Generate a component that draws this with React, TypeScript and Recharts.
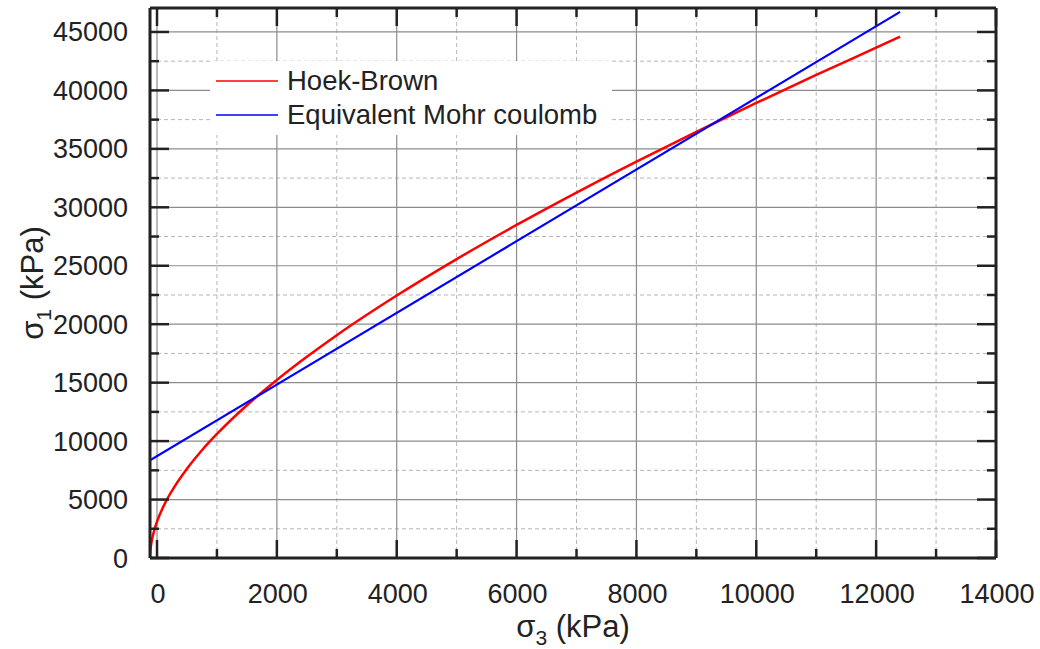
import { LineChart, Line, XAxis, YAxis, ReferenceLine, Legend } from 'recharts';

// Hoek-Brown envelope (sigma3, sigma1 in kPa)
const hbSigma3 = [-117, -112, -100, -80, -50, 0, 150, 300, 500, 750, 1000, 1500, 2000, 2500, 3000, 4000, 5000, 6000, 7000, 8000, 9000, 10000, 11000, 12000, 12400];
const hbSigma1 = [0, 530, 1090, 1670, 2300, 3110, 4850, 6170, 7640, 9220, 10610, 13070, 15230, 17210, 19060, 22450, 25570, 28490, 31260, 33910, 36460, 38930, 41320, 43660, 44600];

// equivalent Mohr-Coulomb line
const mcSigma3 = [-117, 12400];
const mcSigma1 = [8350, 46720];

const xTicks = [0, 1000, 2000, 3000, 4000, 5000, 6000, 7000, 8000, 9000, 10000, 11000, 12000, 13000, 14000];
const yTicks = [0, 2500, 5000, 7500, 10000, 12500, 15000, 17500, 20000, 22500, 25000, 27500, 30000, 32500, 35000, 37500, 40000, 42500, 45000];

const hbData = hbSigma3.map((s3, i) => ({ s3, s1: hbSigma1[i] }));
const mcData = mcSigma3.map((s3, i) => ({ s3, s1: mcSigma1[i] }));

const FONT = '"Liberation Sans", Arial, sans-serif';
const INK = '#222';

const isMajorX = (v: number) => v % 2000 === 0;
const isMajorY = (v: number) => v % 5000 === 0;

const BottomTick = ({ x, y, payload }: any) => {
  const major = isMajorX(payload.value);
  return (
    <g>
      <line x1={x} x2={x} y1={y} y2={y - (major ? 18 : 9)} stroke={INK} strokeWidth={2.5} />
      {major && (
        <text x={x + 1} y={y + 45} textAnchor="middle" fontSize={27} fontFamily={FONT} fill={INK}>
          {payload.value}
        </text>
      )}
    </g>
  );
};

const TopTick = ({ x, y, payload }: any) => {
  const major = isMajorX(payload.value);
  return <line x1={x} x2={x} y1={y} y2={y + (major ? 18 : 9)} stroke={INK} strokeWidth={2.5} />;
};

const LeftTick = ({ x, y, payload }: any) => {
  const major = isMajorY(payload.value);
  return (
    <g>
      <line x1={x} x2={x + (major ? 19 : 9)} y1={y} y2={y} stroke={INK} strokeWidth={2.5} />
      {major && (
        <text x={x - 22} y={y + 9.5} textAnchor="end" fontSize={27} fontFamily={FONT} fill={INK}>
          {payload.value}
        </text>
      )}
    </g>
  );
};

const RightTick = ({ x, y, payload }: any) => {
  const major = isMajorY(payload.value);
  return <line x1={x} x2={x - (major ? 19 : 9)} y1={y} y2={y} stroke={INK} strokeWidth={2.5} />;
};

const XTitle = ({ viewBox }: any) => {
  const cx = viewBox.x + viewBox.width / 2;
  return (
    <text x={cx} y={viewBox.y + 79} textAnchor="middle" fontSize={31} fontFamily={FONT} fill={INK}>
      <tspan>σ</tspan>
      <tspan fontSize={21} dy={8}>3</tspan>
      <tspan dy={-8}> (kPa)</tspan>
    </text>
  );
};

const YTitle = ({ viewBox }: any) => {
  const cx = viewBox.x - 47;
  const cy = viewBox.y + viewBox.height / 2;
  return (
    <text x={cx} y={cy} transform={`rotate(-90, ${cx}, ${cy})`} textAnchor="middle" fontSize={31} fontFamily={FONT} fill={INK}>
      <tspan>σ</tspan>
      <tspan fontSize={21} dy={8}>1</tspan>
      <tspan dy={-8}> (kPa)</tspan>
    </text>
  );
};

const legendItems = [
  { label: 'Hoek-Brown', color: '#ff0000' },
  { label: 'Equivalent Mohr coulomb', color: '#0000ff' },
];

const LegendBox = () => (
  <div style={{ width: 402, height: 74, background: '#fff', position: 'relative', fontFamily: FONT }}>
    {legendItems.map((it, i) => (
      <div key={it.label} style={{ position: 'absolute', left: 6, top: 20 + i * 34 - 17, height: 34, display: 'flex', alignItems: 'center' }}>
        <svg width={62} height={4} style={{ display: 'block' }}>
          <line x1={0} x2={62} y1={2} y2={2} stroke={it.color} strokeWidth={1.5} />
        </svg>
        <span style={{ marginLeft: 9, fontSize: 27.5, color: INK, lineHeight: '34px', whiteSpace: 'nowrap' }}>{it.label}</span>
      </div>
    ))}
  </div>
);

export default function App() {
  return (
    <div style={{ position: 'absolute', left: 0, top: 0, width: 1040, height: 649, background: '#fff' }}>
      <LineChart width={1040} height={649} margin={{ top: 7, right: 43, bottom: 51, left: 90 }}>
        <XAxis
          xAxisId="b"
          type="number"
          dataKey="s3"
          domain={[-117, 14000]}
          ticks={xTicks}
          interval={0}
          allowDataOverflow
          height={40}
          tickSize={0}
          tickMargin={0}
          tickLine={false}
          tick={BottomTick}
          axisLine={{ stroke: INK, strokeWidth: 3 }}
          label={<XTitle />}
        />
        <XAxis
          xAxisId="t"
          orientation="top"
          type="number"
          dataKey="s3"
          domain={[-117, 14000]}
          ticks={xTicks}
          interval={0}
          allowDataOverflow
          height={1}
          tickSize={0}
          tickMargin={0}
          tickLine={false}
          tick={TopTick}
          axisLine={{ stroke: INK, strokeWidth: 3 }}
        />
        <YAxis
          yAxisId="l"
          type="number"
          domain={[0, 47050]}
          ticks={yTicks}
          interval={0}
          allowDataOverflow
          width={60}
          tickSize={0}
          tickMargin={0}
          tickLine={false}
          tick={LeftTick}
          axisLine={{ stroke: INK, strokeWidth: 3 }}
          label={<YTitle />}
        />
        <YAxis
          yAxisId="r"
          orientation="right"
          type="number"
          domain={[0, 47050]}
          ticks={yTicks}
          interval={0}
          allowDataOverflow
          width={1}
          tickSize={0}
          tickMargin={0}
          tickLine={false}
          tick={RightTick}
          axisLine={{ stroke: INK, strokeWidth: 3 }}
        />

        {xTicks.filter((v) => !isMajorX(v)).map((v) => (
          <ReferenceLine key={'xm' + v} x={v} xAxisId="b" yAxisId="l" stroke="#b5b5b5" strokeWidth={1} strokeDasharray="4 3" />
        ))}
        {yTicks.filter((v) => !isMajorY(v)).map((v) => (
          <ReferenceLine key={'ym' + v} y={v} xAxisId="b" yAxisId="l" stroke="#b5b5b5" strokeWidth={1} strokeDasharray="4 3" />
        ))}
        {xTicks.filter(isMajorX).map((v) => (
          <ReferenceLine key={'xM' + v} x={v} xAxisId="b" yAxisId="l" stroke="#8c8c8c" strokeWidth={1.2} />
        ))}
        {yTicks.filter(isMajorY).map((v) => (
          <ReferenceLine key={'yM' + v} y={v} xAxisId="b" yAxisId="l" stroke="#8c8c8c" strokeWidth={1.2} />
        ))}

        <Legend
          layout="vertical"
          align="center"
          verticalAlign="middle"
          content={<LegendBox />}
          wrapperStyle={{ position: 'absolute', left: 210, top: 61, width: 402, height: 74 }}
        />

        <Line
          data={hbData}
          dataKey="s1"
          name="Hoek-Brown"
          xAxisId="b"
          yAxisId="l"
          type="monotone"
          stroke="#ff0000"
          strokeWidth={2.5}
          dot={false}
          isAnimationActive={false}
        />
        <Line
          data={mcData}
          dataKey="s1"
          name="Equivalent Mohr coulomb"
          xAxisId="b"
          yAxisId="l"
          type="linear"
          stroke="#0000ff"
          strokeWidth={2.2}
          dot={false}
          isAnimationActive={false}
        />
      </LineChart>
    </div>
  );
}
